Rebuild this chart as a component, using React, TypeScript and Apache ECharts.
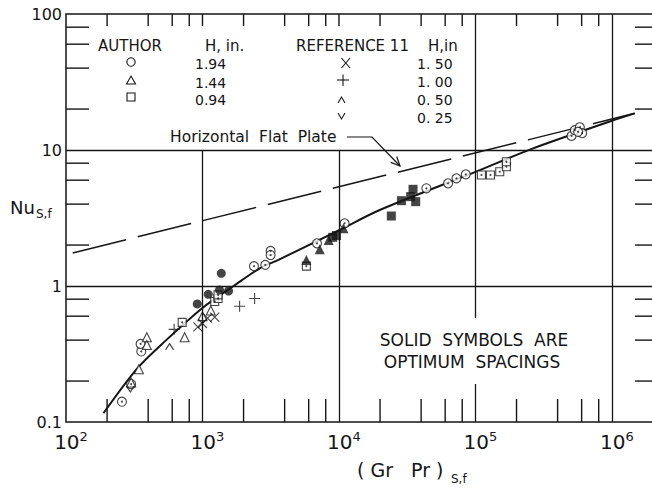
import React, { useEffect, useRef } from 'react';
import * as echarts from 'echarts';

const FONT = 'DejaVu Sans';
const INK = '#151515';

const X_MIN = 100;
const X_MAX = 2000000;
const Y_MIN = 0.1;
const Y_MAX = 100;

// minor tick positions (2,4,6,8 per decade)
const xMinorTicks = [200, 400, 600, 800, 2000, 4000, 6000, 8000, 20000, 40000, 60000, 80000, 200000, 400000, 600000, 800000];
const xTopOnlyTicks = [1000, 10000];
const yMinorTicks = [0.2, 0.4, 0.6, 0.8, 2, 4, 6, 8, 20, 40, 60, 80];

// correlation curve (solid)
const curveX = [188, 333, 542, 1000, 1690, 2630, 3570, 10100, 19900, 100000, 259000, 1000000, 1470000];
const curveY = [0.116, 0.248, 0.40, 0.69, 1.0, 1.35, 1.55, 2.58, 3.62, 6.9, 10.2, 16.4, 18.6];

// horizontal flat plate (dashed)
const plateX = [112, 1470000];
const plateY = [1.75, 18.6];

// AUTHOR, H = 1.94 in (open circles)
const circX = [257, 300, 356, 352, 2384, 2886, 3155, 3155, 6900, 11000, 43700, 63000, 72600, 85000, 506000, 535000, 582000, 605000, 565000];
const circY = [0.141, 0.19, 0.33, 0.375, 1.40, 1.43, 1.81, 1.69, 2.06, 2.89, 5.23, 5.69, 6.19, 6.62, 12.7, 14.0, 14.7, 13.3, 13.6];
// solid circles (optimum spacing)
const solidCircX = [916, 1102, 1333, 1552, 1374];
const solidCircY = [0.738, 0.869, 0.935, 0.919, 1.24];

// AUTHOR, H = 1.44 in (open triangles)
const triX = [300, 342, 391, 391, 740, 1000, 1150];
const triY = [0.195, 0.244, 0.42, 0.368, 0.42, 0.60, 0.66];
const solidTriX = [5770, 7230, 8400, 10800];
const solidTriY = [1.55, 1.86, 2.18, 2.66];

// AUTHOR, H = 0.94 in (open squares)
const sqX = [710, 1230, 1300, 1300, 5770, 110600, 128800, 150700, 168600, 168600];
const sqY = [0.54, 0.77, 0.81, 0.86, 1.40, 6.55, 6.55, 6.92, 7.54, 8.2];
const solidSqX = [9000, 9600, 24200, 28700, 34900, 33500, 36500];
const solidSqY = [2.28, 2.35, 3.27, 4.24, 5.14, 4.54, 4.17];

// REFERENCE 11
const xMarkX = [925, 1090, 1230, 1000];
const xMarkY = [0.50, 0.58, 0.59, 0.53];
const plusX = [620, 1871, 2410];
const plusY = [0.48, 0.71, 0.81];
const caretX = [574];
const caretY = [0.358];
const veeX = [296];
const veeY = [0.175];

const pairs = (xs: number[], ys: number[]) => xs.map((x, i) => [x, ys[i]]);

const strokeSym = (sym: string, size: any, data: number[][]) => ({
  type: 'scatter',
  symbol: sym,
  symbolSize: size,
  z: 4,
  silent: true,
  itemStyle: { color: 'rgba(0,0,0,0)', borderColor: INK, borderWidth: 1.1 },
  data,
});

function buildOption(): any {
  const gridLines = [
    [{ coord: [1000, Y_MIN] }, { coord: [1000, 10] }],
    [{ coord: [10000, Y_MIN] }, { coord: [10000, 10] }],
    [{ coord: [100000, Y_MIN] }, { coord: [100000, Y_MAX] }],
    [{ coord: [1000000, Y_MIN] }, { coord: [1000000, Y_MAX] }],
    [{ coord: [X_MIN, 1] }, { coord: [X_MAX, 1] }],
    [{ coord: [X_MIN, 10] }, { coord: [X_MAX, 10] }],
  ];

  const legendText = (text: string, x: number, y: number, size = 14) => ({
    type: 'text', x, y, z: 101,
    style: { text, fontSize: size, fontFamily: FONT, fill: INK, align: 'left', verticalAlign: 'middle' },
  });

  return {
    animation: false,
    backgroundColor: '#ffffff',
    grid: {
      left: 66, top: 14, width: 587, height: 408,
      show: true, borderColor: INK, borderWidth: 1.5, backgroundColor: 'rgba(0,0,0,0)',
      outerBoundsMode: 'none', containLabel: false,
    },
    xAxis: {
      type: 'log', logBase: 10, min: X_MIN, max: X_MAX,
      axisLine: { show: false }, axisTick: { show: false }, splitLine: { show: false }, minorTick: { show: false },
      axisLabel: {
        margin: 8,
        padding: [0, 0, 0, 10],
        hideOverlap: false,
        formatter: (v: number) => {
          const e = Math.log10(v);
          const r = Math.round(e);
          if (Math.abs(e - r) > 1e-6) return '';
          return `{b|10}{s|${r}}`;
        },
        rich: {
          b: { fontSize: 20, fontFamily: FONT, color: INK, lineHeight: 24 },
          s: { fontSize: 13, fontFamily: FONT, color: INK, verticalAlign: 'top', lineHeight: 14 },
        },
      },
    },
    yAxis: {
      type: 'log', logBase: 10, min: Y_MIN, max: Y_MAX,
      axisLine: { show: false }, axisTick: { show: false }, splitLine: { show: false }, minorTick: { show: false },
      axisLabel: {
        margin: 4, fontSize: 16, fontFamily: FONT, color: INK,
        formatter: (v: number) => {
          const e = Math.log10(v);
          const r = Math.round(e);
          if (Math.abs(e - r) > 1e-6) return '';
          return r < 0 ? '0.1' : String(Math.pow(10, r));
        },
      },
    },
    graphic: [
      // white box behind the note
      { type: 'rect', z: 100, shape: { x: 372, y: 318, width: 210, height: 66 }, style: { fill: '#ffffff' } },
      {
        type: 'text', x: 474, y: 340, z: 101,
        style: { text: 'SOLID  SYMBOLS  ARE', fontSize: 17, fontFamily: FONT, fill: INK, align: 'center', verticalAlign: 'middle' },
      },
      {
        type: 'text', x: 472, y: 362, z: 101,
        style: { text: 'OPTIMUM  SPACINGS', fontSize: 17, fontFamily: FONT, fill: INK, align: 'center', verticalAlign: 'middle' },
      },
      // legend
      legendText('AUTHOR', 98, 46, 15),
      legendText('H, in.', 205, 46, 15),
      legendText('REFERENCE 11', 296, 46, 15),
      legendText('H,in', 428, 45.5, 15),
      legendText('1.94', 195, 63.5),
      legendText('1.44', 195, 82.5),
      legendText('0.94', 195, 100),
      legendText('1. 50', 417, 64),
      legendText('1. 00', 417, 82),
      legendText('0. 50', 417, 100),
      legendText('0. 25', 417, 118),
      { type: 'circle', z: 101, shape: { cx: 131, cy: 62, r: 4.2 }, style: { fill: 'none', stroke: INK, lineWidth: 1.1 } },
      { type: 'polygon', z: 101, shape: { points: [[126.5, 84], [131, 76], [135.5, 84]] }, style: { fill: 'none', stroke: INK, lineWidth: 1.1 } },
      { type: 'rect', z: 101, shape: { x: 127, y: 93, width: 8, height: 8 }, style: { fill: 'none', stroke: INK, lineWidth: 1.1 } },
      { type: 'line', z: 101, shape: { x1: 341.5, y1: 58, x2: 350, y2: 68 }, style: { stroke: INK, lineWidth: 1.1 } },
      { type: 'line', z: 101, shape: { x1: 350, y1: 58, x2: 341.5, y2: 68 }, style: { stroke: INK, lineWidth: 1.1 } },
      { type: 'line', z: 101, shape: { x1: 337, y1: 80, x2: 349, y2: 80 }, style: { stroke: INK, lineWidth: 1.1 } },
      { type: 'line', z: 101, shape: { x1: 343, y1: 74.5, x2: 343, y2: 86 }, style: { stroke: INK, lineWidth: 1.1 } },
      { type: 'polyline', z: 101, shape: { points: [[338, 103], [341.5, 97], [345, 103]] }, style: { fill: 'none', stroke: INK, lineWidth: 1.1 } },
      { type: 'polyline', z: 101, shape: { points: [[338, 113], [341.5, 119], [345, 113]] }, style: { fill: 'none', stroke: INK, lineWidth: 1.1 } },
      // Horizontal Flat Plate label and leader
      {
        type: 'text', x: 170, y: 137, z: 101,
        style: { text: 'Horizontal  Flat  Plate', fontSize: 15.5, fontFamily: FONT, fill: INK, align: 'left', verticalAlign: 'middle' },
      },
      { type: 'polyline', z: 101, shape: { points: [[347, 137], [372, 137], [400, 166]] }, style: { fill: 'none', stroke: INK, lineWidth: 1.2 } },
      { type: 'polyline', z: 101, shape: { points: [[390.7, 162.4], [400, 166], [396.7, 156.5]] }, style: { fill: 'none', stroke: INK, lineWidth: 1.2 } },
      // axis titles
      { type: 'text', x: 10, y: 207, z: 101, style: { text: 'Nu', fontSize: 18, fontFamily: FONT, fill: INK, align: 'left', verticalAlign: 'middle' } },
      { type: 'text', x: 36, y: 214, z: 101, style: { text: 'S,f', fontSize: 12, fontFamily: FONT, fill: INK, align: 'left', verticalAlign: 'middle' } },
      { type: 'text', x: 357, y: 470, z: 101, style: { text: '( Gr   Pr )', fontSize: 19, fontFamily: FONT, fill: INK, align: 'left', verticalAlign: 'middle' } },
      { type: 'text', x: 451, y: 479, z: 101, style: { text: 'S,f', fontSize: 12, fontFamily: FONT, fill: INK, align: 'left', verticalAlign: 'middle' } },
    ],
    series: [
      {
        type: 'line', data: [], z: 1, silent: true,
        markLine: {
          silent: true, symbol: ['none', 'none'], label: { show: false },
          lineStyle: { color: INK, width: 1.3, type: 'solid' },
          emphasis: { disabled: true },
          data: gridLines,
        },
      },
      {
        type: 'custom', z: 2, silent: true,
        data: xMinorTicks.map((x) => [x, Y_MIN]),
        renderItem: (_p: any, api: any) => {
          const x = api.value(0);
          const b = api.coord([x, Y_MIN]);
          const t = api.coord([x, Y_MAX]);
          return {
            type: 'group',
            children: [
              { type: 'line', shape: { x1: b[0], y1: b[1], x2: b[0], y2: b[1] - 23 }, style: { stroke: INK, lineWidth: 1.4 } },
              { type: 'line', shape: { x1: t[0], y1: t[1], x2: t[0], y2: t[1] + 12 }, style: { stroke: INK, lineWidth: 1.4 } },
            ],
          };
        },
      },
      {
        type: 'custom', z: 2, silent: true,
        data: xTopOnlyTicks.map((x) => [x, Y_MAX]),
        renderItem: (_p: any, api: any) => {
          const t = api.coord([api.value(0), Y_MAX]);
          return { type: 'line', shape: { x1: t[0], y1: t[1], x2: t[0], y2: t[1] + 12 }, style: { stroke: INK, lineWidth: 1.4 } };
        },
      },
      {
        type: 'custom', z: 2, silent: true,
        data: yMinorTicks.map((y) => [X_MIN, y]),
        renderItem: (_p: any, api: any) => {
          const y = api.value(1);
          const l = api.coord([X_MIN, y]);
          const r = api.coord([X_MAX, y]);
          return {
            type: 'group',
            children: [
              { type: 'line', shape: { x1: l[0], y1: l[1], x2: l[0] + 23, y2: l[1] }, style: { stroke: INK, lineWidth: 1.4 } },
              { type: 'line', shape: { x1: r[0], y1: r[1], x2: r[0] - 18, y2: r[1] }, style: { stroke: INK, lineWidth: 1.4 } },
            ],
          };
        },
      },
      {
        type: 'line', z: 3, silent: true, showSymbol: false, symbol: 'none',
        lineStyle: { color: INK, width: 1.5, type: [55, 12] },
        data: pairs(plateX, plateY),
      },
      {
        type: 'line', z: 3, silent: true, showSymbol: false, symbol: 'none', smooth: 0.3,
        lineStyle: { color: INK, width: 2 },
        data: pairs(curveX, curveY),
      },
      {
        type: 'scatter', symbol: 'circle', symbolSize: 9, z: 4, silent: true,
        itemStyle: { color: '#ffffff', borderColor: INK, borderWidth: 1.1 },
        data: pairs(circX, circY),
      },
      {
        type: 'scatter', symbol: 'rect', symbolSize: 8, z: 4, silent: true,
        itemStyle: { color: '#ffffff', borderColor: INK, borderWidth: 1.1 },
        data: pairs(sqX, sqY),
      },
      {
        type: 'scatter', symbol: 'triangle', symbolSize: 9, z: 4, silent: true,
        itemStyle: { color: '#ffffff', borderColor: INK, borderWidth: 1.1 },
        data: pairs(triX, triY),
      },
      {
        type: 'scatter', symbol: 'circle', symbolSize: 2, z: 5, silent: true,
        itemStyle: { color: INK },
        data: pairs(circX, circY).concat(pairs(sqX, sqY)),
      },
      {
        type: 'scatter', symbol: 'circle', symbolSize: 9, z: 4, silent: true,
        itemStyle: { color: INK },
        data: pairs(solidCircX, solidCircY),
      },
      {
        type: 'scatter', symbol: 'triangle', symbolSize: 10, z: 4, silent: true,
        itemStyle: { color: INK },
        data: pairs(solidTriX, solidTriY),
      },
      {
        type: 'scatter', symbol: 'rect', symbolSize: 9, z: 4, silent: true,
        itemStyle: { color: INK },
        data: pairs(solidSqX, solidSqY),
      },
      strokeSym('path://M0,0L10,10M10,0L0,10', 9, pairs(xMarkX, xMarkY)),
      strokeSym('path://M5,0L5,10M0,5L10,5', 11, pairs(plusX, plusY)),
      strokeSym('path://M0,6L5,0L10,6', [8, 6], pairs(caretX, caretY)),
      strokeSym('path://M0,0L5,6L10,0', [8, 6], pairs(veeX, veeY)),
    ],
  };
}

export default function App() {
  const ref = useRef<HTMLDivElement>(null);
  useEffect(() => {
    if (!ref.current) return;
    const chart = echarts.init(ref.current, null, { renderer: 'svg' });
    chart.setOption(buildOption());
    return () => chart.dispose();
  }, []);
  return (
    <div
      ref={ref}
      style={{ position: 'fixed', left: 0, top: 0, width: 652, height: 488, background: '#ffffff' }}
    />
  );
}
